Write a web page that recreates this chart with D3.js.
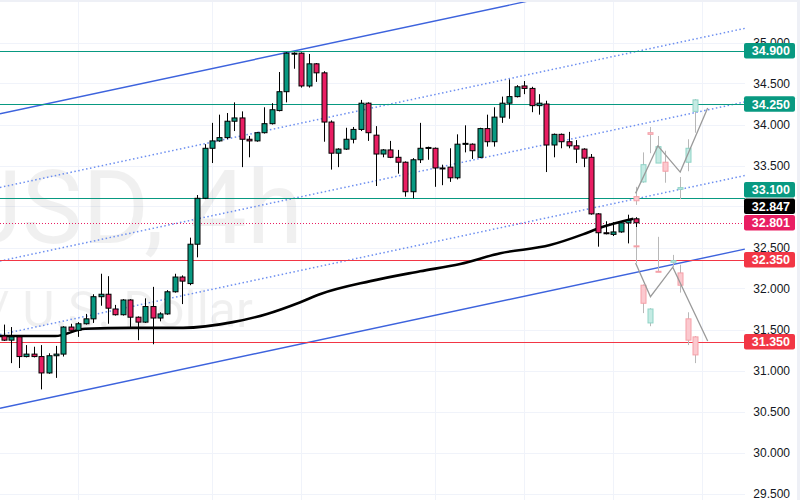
<!DOCTYPE html>
<html lang="en">
<head>
<meta charset="UTF-8">
<title>XAGUSD 4h</title>
<style>
  html, body { margin: 0; padding: 0; background: #fff; }
  svg { display: block; font-family: "Liberation Sans", Arial, sans-serif; }
</style>
</head>
<body>
<svg id="chart" width="800" height="500"></svg>
<script src="https://cdn.jsdelivr.net/npm/d3@7/dist/d3.min.js"></script>
<script>
// candles, 4h bars, oldest first
const opens  = [31.42,31.37,31.41,31.17,31.20,31.17,30.97,31.18,31.20,31.53,31.49,31.57,31.63,31.90,31.93,31.75,31.68,31.86,31.65,31.59,
                31.78,31.64,31.69,31.96,32.14,32.06,32.54,33.10,33.71,33.80,33.84,34.04,34.08,33.82,33.80,33.90,34.01,34.17,34.40,34.86,
                34.87,34.47,34.74,34.63,34.03,33.65,33.70,33.82,33.94,34.26,33.87,33.64,33.69,33.60,33.54,33.18,33.57,33.71,33.71,33.47,
                33.48,33.35,33.76,33.76,33.60,33.95,33.79,34.09,34.26,34.34,34.47,34.44,34.23,34.25,33.75,33.88,33.79,33.74,33.70,33.60,
                32.91,32.68,32.66,32.69,32.80,32.85];
const highs  = [31.56,31.53,31.43,31.31,31.29,31.31,31.21,31.30,31.54,31.57,31.59,31.69,31.93,32.18,32.15,31.80,31.87,31.87,31.66,31.88,
                32.02,31.71,31.98,32.18,32.16,32.62,33.14,33.76,34.02,34.12,34.14,34.27,34.16,33.86,33.91,34.21,34.26,34.64,34.88,34.88,
                34.88,34.86,34.75,34.65,34.05,33.71,33.96,33.97,34.30,34.27,33.98,33.70,33.80,33.69,33.55,33.59,34.02,33.73,33.72,33.51,
                33.71,33.88,33.99,33.77,33.96,34.12,34.21,34.34,34.55,34.48,34.53,34.46,34.37,34.29,33.89,33.89,33.91,33.81,33.71,33.64,
                32.92,32.82,32.81,32.81,32.90,32.87];
const lows   = [31.36,31.09,31.03,31.16,31.16,30.77,30.96,30.91,31.17,31.49,31.41,31.56,31.58,31.79,31.57,31.67,31.67,31.53,31.37,31.58,
                31.32,31.60,31.68,31.95,31.81,32.04,32.38,33.09,33.53,33.79,33.82,33.92,33.48,33.60,33.79,33.89,34.00,34.16,34.27,34.68,
                34.45,34.45,34.52,33.79,33.45,33.48,33.69,33.77,33.92,33.80,33.25,33.60,33.59,33.40,33.12,33.10,33.53,33.57,33.24,33.26,
                33.30,33.33,33.66,33.58,33.59,33.73,33.73,34.02,34.07,34.33,34.37,34.15,34.12,33.42,33.60,33.71,33.71,33.53,33.48,32.90,
                32.51,32.66,32.64,32.68,32.55,32.75];
const closes = [31.37,31.41,31.17,31.20,31.17,30.97,31.18,31.20,31.53,31.49,31.57,31.63,31.90,31.93,31.76,31.68,31.86,31.65,31.59,31.78,
                31.64,31.69,31.96,32.14,32.09,32.54,33.10,33.71,33.80,33.84,34.04,34.08,33.82,33.80,33.90,34.01,34.18,34.40,34.87,34.87,
                34.47,34.74,34.63,34.03,33.65,33.70,33.82,33.94,34.26,33.90,33.64,33.69,33.60,33.54,33.18,33.57,33.71,33.72,33.47,33.46,
                33.35,33.76,33.77,33.68,33.95,33.79,34.09,34.26,34.34,34.46,34.44,34.23,34.26,33.75,33.88,33.79,33.74,33.70,33.59,32.91,
                32.68,32.67,32.69,32.80,32.83,32.801];

// moving average, read as [bar index, price]
const maPoints = [[-0.54,31.42],[6.9,31.42],[10.9,31.51],[17,31.52],[24.1,31.52],[30.8,31.59],[35.4,31.69],[39.8,31.83],
                  [42.5,31.93],[49.3,32.09],[56,32.21],[61.4,32.30],[66.8,32.43],[73.5,32.53],[77.9,32.66],[80.2,32.74],[84.7,32.85]];
const maLast = 32.847;
const lastPrice = 32.801;

// key levels
const resistanceLevels = [34.900, 34.250, 33.100];
const supportLevels = [32.350, 31.350];

// channel edges [bar index, price]
const channelTop = [[-0.54,34.13],[99.7,36.07]];
const channelBottom = [[-0.54,30.54],[99.7,32.48]];
const channelSplits = [0.25, 0.5, 0.75];

// bullish scenario (projected bars)
const bullIdx   = [85,86,87,88,89,91,92,93];
const bullOpen  = [33.12,33.30,33.90,33.53,33.54,33.21,33.54,34.16];
const bullHigh  = [33.24,33.66,33.97,33.86,33.68,33.36,33.82,34.31];
const bullLow   = [33.02,33.29,33.65,33.53,33.29,33.09,33.43,33.90];
const bullClose = [33.07,33.51,33.88,33.73,33.43,33.23,33.71,34.30];
const bullPath  = [[85,33.16],[88,33.74],[91,33.42],[94.7,34.20]];

// bearish scenario (projected bars)
const bearIdx   = [85,86,87,88,90,91,92,93];
const bearOpen  = [32.52,32.04,31.58,32.21,32.32,32.19,31.63,31.41];
const bearHigh  = [32.75,32.05,31.76,32.63,32.41,32.29,31.71,31.42];
const bearLow   = [32.31,31.70,31.54,32.20,32.26,31.95,31.31,31.09];
const bearClose = [32.51,31.82,31.75,32.20,32.34,32.04,31.37,31.19];
const bearPath  = [[85,32.31],[87,31.90],[90,32.26],[94.7,31.36]];

const priceTicks = d3.range(29.5, 35.01, 0.5);
const dayLines = [10, 28, 40, 58, 70, 82, 94];

const W = 800, H = 500, plotRight = 745;
const svg = d3.select("#chart");

const x = d3.scaleLinear().domain([0, 85]).range([4, 635.6]);
const y = d3.scaleLinear().domain([29.5, 35.5]).range([493.5, 1.5]);
const fmt = d3.format(".3f");

svg.append("defs").append("clipPath").attr("id", "plot")
  .append("rect").attr("x", 0).attr("y", 0).attr("width", plotRight).attr("height", H);

const plot = svg.append("g").attr("clip-path", "url(#plot)");

// grid
plot.append("g").selectAll("line").data(priceTicks).join("line")
  .attr("x1", 0).attr("x2", plotRight)
  .attr("y1", d => Math.round(y(d)) + 0.5).attr("y2", d => Math.round(y(d)) + 0.5)
  .attr("stroke", "#f0f3fa");
plot.append("g").selectAll("line").data(dayLines).join("line")
  .attr("x1", d => Math.round(x(d)) + 0.5).attr("x2", d => Math.round(x(d)) + 0.5)
  .attr("y1", 0).attr("y2", H)
  .attr("stroke", "#f0f3fa");

// watermark
plot.append("text")
  .attr("x", 303).attr("y", 243)
  .attr("text-anchor", "end")
  .attr("font-family", "Roboto, sans-serif")
  .attr("font-size", 102)
  .attr("fill", "#000").attr("fill-opacity", 0.06)
  .text("XAGUSD, 4h");
plot.append("text")
  .attr("x", 253).attr("y", 327)
  .attr("text-anchor", "end")
  .attr("font-family", "Roboto, sans-serif")
  .attr("font-size", 50)
  .attr("fill", "#000").attr("fill-opacity", 0.06)
  .text("Silver / U.S. Dollar");

// channel
const lerp = (a, b, t) => [a[0], a[1] + (b[1] - a[1]) * t];
plot.append("g").selectAll("line").data(channelSplits).join("line")
  .attr("x1", x(channelTop[0][0]))
  .attr("x2", x(channelTop[1][0]))
  .attr("y1", t => y(channelTop[0][1] + (channelBottom[0][1] - channelTop[0][1]) * t))
  .attr("y2", t => y(channelTop[1][1] + (channelBottom[1][1] - channelTop[1][1]) * t))
  .attr("stroke", "#6d8ff0").attr("stroke-width", 1.5)
  .attr("stroke-dasharray", "1.5 2.5");
plot.append("g").selectAll("line").data([channelTop, channelBottom]).join("line")
  .attr("x1", d => x(d[0][0])).attr("y1", d => y(d[0][1]))
  .attr("x2", d => x(d[1][0])).attr("y2", d => y(d[1][1]))
  .attr("stroke", "#3d63dd").attr("stroke-width", 1.4);

// levels
plot.append("g").selectAll("line").data(resistanceLevels).join("line")
  .attr("x1", 0).attr("x2", plotRight)
  .attr("y1", d => Math.round(y(d)) + 0.5).attr("y2", d => Math.round(y(d)) + 0.5)
  .attr("stroke", "#089981").attr("stroke-width", 1.2);
plot.append("g").selectAll("line").data(supportLevels).join("line")
  .attr("x1", 0).attr("x2", plotRight)
  .attr("y1", d => Math.round(y(d)) + 0.5).attr("y2", d => Math.round(y(d)) + 0.5)
  .attr("stroke", "#f23645").attr("stroke-width", 1.2);
plot.append("line")
  .attr("x1", 0).attr("x2", plotRight)
  .attr("y1", Math.round(y(lastPrice)) + 0.5).attr("y2", Math.round(y(lastPrice)) + 0.5)
  .attr("stroke", "#e91e63").attr("stroke-dasharray", "1 2");

// moving average
plot.append("path")
  .datum(maPoints)
  .attr("d", d3.line().x(d => x(d[0])).y(d => y(d[1])).curve(d3.curveMonotoneX))
  .attr("fill", "none").attr("stroke", "#000").attr("stroke-width", 2.6);

// candles
const bars = d3.range(opens.length).map(i => ({ i, o: opens[i], h: highs[i], l: lows[i], c: closes[i] }));
const bw = 5;
const candle = plot.append("g").selectAll("g").data(bars).join("g");
candle.append("line")
  .attr("x1", d => Math.round(x(d.i)) + 0.5).attr("x2", d => Math.round(x(d.i)) + 0.5)
  .attr("y1", d => y(d.h)).attr("y2", d => y(d.l))
  .attr("stroke", "#000");
candle.append("rect")
  .attr("x", d => Math.round(x(d.i)) - bw / 2 + 0.5)
  .attr("y", d => y(Math.max(d.o, d.c)))
  .attr("width", bw)
  .attr("height", d => Math.max(1, Math.abs(y(d.o) - y(d.c))))
  .attr("fill", d => d.c >= d.o ? "#089981" : "#e91e63")
  .attr("stroke", "#000").attr("stroke-width", 1);

// projected scenarios
function scenario(idx, o, h, l, c, path) {
  const data = idx.map((v, k) => ({ i: v, o: o[k], h: h[k], l: l[k], c: c[k] }));
  const g = plot.append("g");
  g.selectAll("line").data(data).join("line")
    .attr("x1", d => Math.round(x(d.i)) + 0.5).attr("x2", d => Math.round(x(d.i)) + 0.5)
    .attr("y1", d => y(d.h)).attr("y2", d => y(d.l))
    .attr("stroke", "#b8b8b8");
  g.selectAll("rect").data(data).join("rect")
    .attr("x", d => Math.round(x(d.i)) - bw / 2 + 0.5)
    .attr("y", d => y(Math.max(d.o, d.c)))
    .attr("width", bw)
    .attr("height", d => Math.max(1, Math.abs(y(d.o) - y(d.c))))
    .attr("fill", d => d.c >= d.o ? "#c5ebe4" : "#fbc9cf")
    .attr("stroke", d => d.c >= d.o ? "#8fd3c6" : "#f5a0a8");
  g.append("path").datum(path)
    .attr("d", d3.line().x(d => x(d[0])).y(d => y(d[1])))
    .attr("fill", "none").attr("stroke", "#9a9a9a").attr("stroke-width", 1.3);
}
scenario(bullIdx, bullOpen, bullHigh, bullLow, bullClose, bullPath);
scenario(bearIdx, bearOpen, bearHigh, bearLow, bearClose, bearPath);

// price scale
svg.append("g").selectAll("text").data(priceTicks).join("text")
  .attr("x", 790).attr("y", d => y(d))
  .attr("dy", "0.35em")
  .attr("text-anchor", "end")
  .attr("font-size", 12)
  .attr("fill", "#131722")
  .text(fmt);

// price labels, stacked so they do not overlap
const labels = [
  ...resistanceLevels.map(v => ({ v, fill: "#089981" })),
  ...supportLevels.map(v => ({ v, fill: "#f23645" })),
  { v: maLast, fill: "#000000" },
  { v: lastPrice, fill: "#e91e63" }
].sort((a, b) => a.v - b.v);
const boxH = 16.5;
let prev = Infinity;
labels.forEach(d => {
  let cy = y(d.v);
  if (cy > prev - boxH) cy = prev - boxH;
  d.cy = cy;
  prev = cy;
});
const lab = svg.append("g").selectAll("g").data(labels).join("g")
  .attr("transform", d => `translate(744,${d.cy})`);
lab.append("rect")
  .attr("x", 0).attr("y", -boxH / 2 + 0.5)
  .attr("width", 51).attr("height", boxH - 1)
  .attr("rx", 2)
  .attr("fill", d => d.fill);
lab.append("text")
  .attr("x", 46).attr("dy", "0.36em")
  .attr("text-anchor", "end")
  .attr("font-size", 12.5)
  .attr("font-weight", "bold")
  .attr("fill", "#fff")
  .text(d => fmt(d.v));

// frame
svg.append("rect").attr("x", 0).attr("y", 0).attr("width", W).attr("height", 2).attr("fill", "#eef0f6");
svg.append("rect").attr("x", W - 3).attr("y", 0).attr("width", 3).attr("height", H).attr("fill", "#eef0f6");
</script>
</body>
</html>
